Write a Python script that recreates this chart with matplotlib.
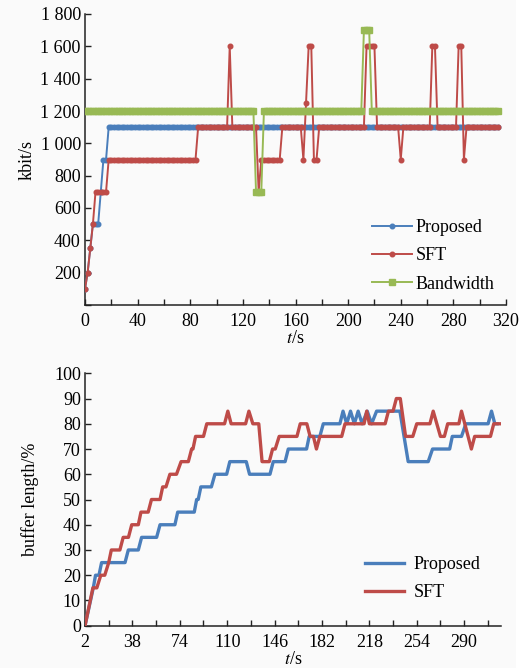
import numpy as np
import matplotlib
matplotlib.use("Agg")
import matplotlib.pyplot as plt
from matplotlib.patches import Rectangle

plt.rcParams['font.family'] = ['Liberation Serif', 'DejaVu Serif']
plt.rcParams['mathtext.fontset'] = 'stix'
plt.rcParams['font.size'] = 13

BLUE = '#4a7ebb'
RED = '#be4b48'
GREEN = '#98b954'

# ---- top chart: bit rate, sampled every 2 s (run-length: level, number of samples)
t_top = np.arange(0, 316, 2)
prop_levels = [100, 200, 350, 500, 700, 900, 1100]
prop_counts = [1, 1, 1, 3, 1, 2, 149]
sft_levels = [100, 200, 350, 500, 700, 900, 1100, 1600, 1100, 700, 900, 1100, 900,
              1250, 1600, 900, 1100, 1600, 1100, 900, 1100, 1600, 1100, 1600, 900, 1100]
sft_counts = [1, 1, 1, 1, 5, 34, 12, 1, 10, 1, 8, 8, 1,
              1, 2, 2, 18, 4, 9, 1, 11, 2, 8, 2, 1, 13]
bw_levels = [1200, 700, 1200, 1700, 1200]
bw_counts = [65, 3, 38, 3, 49]

# ---- bottom chart: buffer length, line vertices (t, %)
prop_buf_t = [2, 8.3, 10, 12.6, 14.6, 32.4, 34.9, 42.5, 45, 56.4, 59, 70.3, 72.4, 85,
              86.8, 88, 90, 98, 100.7, 109.6, 112, 124.5, 127, 142.5, 145, 154, 156.4,
              170.3, 172.3, 180.4, 183, 195.6, 198, 200.8, 203.7, 206.6, 209.5, 212.5,
              216.4, 219.7, 223.5, 241.2, 247.5, 262.7, 266, 279, 281, 288, 291.3,
              308.2, 310.8, 313.3, 315]
prop_buf_v = [0, 15, 20, 20, 25, 25, 30, 30, 35, 35, 40, 40, 45, 45,
              50, 50, 55, 55, 60, 60, 65, 65, 60, 60, 65, 65, 70,
              70, 75, 75, 80, 80, 85, 80, 85, 80, 85, 80,
              85, 80, 85, 85, 65, 65, 70, 70, 75, 75, 80,
              80, 85, 80, 80]
sft_buf_t = [2, 8, 11, 14, 17, 20, 22, 28.5, 31, 35, 37.5, 42.5, 44.5, 50, 52.5, 59,
             61, 63.5, 66.5, 71.5, 75, 80.5, 83, 84, 86, 92, 94.5, 108, 110.5, 113,
             124, 126.5, 129.5, 134, 136.5, 142, 144.5, 146.5, 149.5, 163, 165.5,
             170.5, 173, 175.5, 177.8, 180.4, 197, 199.5, 214, 216, 218, 230, 232.5,
             236, 238.5, 241.5, 245.5, 251, 254, 264, 266.5, 272, 275, 277.5, 286,
             288, 290.5, 295.5, 298, 310, 312.5, 318]
sft_buf_v = [0, 15, 15, 20, 20, 25, 30, 30, 35, 35, 40, 40, 45, 45, 50, 50,
             55, 55, 60, 60, 65, 65, 70, 70, 75, 75, 80, 80, 85, 80,
             80, 85, 80, 80, 65, 65, 70, 70, 75, 75, 80,
             80, 75, 75, 70, 75, 75, 80, 80, 85, 80, 80, 85,
             85, 90, 90, 75, 75, 80, 80, 85, 75, 75, 80, 80,
             85, 80, 70, 75, 75, 80, 80]

fig = plt.figure(figsize=(5.28, 6.68), dpi=100, facecolor='#fafafa')
fig.patches.append(Rectangle((516 / 528, 0), 12 / 528, 1, transform=fig.transFigure,
                             facecolor='white', edgecolor='none', zorder=-1))

ax1 = fig.add_axes([85 / 528, 1 - 305 / 668, 421 / 528, 291 / 668])
ax2 = fig.add_axes([85 / 528, 1 - 625.7 / 668, 416 / 528, 252.4 / 668])

for ax in (ax1, ax2):
    ax.set_facecolor('none')
    for s in ('top', 'right'):
        ax.spines[s].set_visible(False)
    for s in ('left', 'bottom'):
        ax.spines[s].set_linewidth(1.1)
        ax.spines[s].set_color('#222222')
    ax.tick_params(direction='in', length=4, width=1, color='#222222', labelsize=13, pad=3)
    ax.tick_params(axis='x', pad=6)

# top
ax1.plot(t_top, np.repeat(prop_levels, prop_counts), '-o', color=BLUE, lw=1.4, ms=3.3,
         label='Proposed', zorder=3)
ax1.plot(t_top, np.repeat(sft_levels, sft_counts), '-o', color=RED, lw=1.4, ms=3.3,
         label='SFT', zorder=4)
ax1.plot(t_top, np.repeat(bw_levels, bw_counts), '-s', color=GREEN, lw=1.4, ms=3.8,
         label='Bandwidth', zorder=5)
ax1.set_xlim(0, 320)
ax1.set_ylim(0, 1800)
ax1.set_xticks(np.arange(0, 321, 20))
ax1.set_xticklabels([str(v) if v % 40 == 0 else '' for v in range(0, 321, 20)])
yt = list(range(0, 1801, 200))
ax1.set_yticks(yt)
ax1.set_yticklabels(['' if v == 0 else (f'{v // 1000} {v % 1000:03d}' if v >= 1000 else str(v))
                     for v in yt])
ax1.set_ylabel('kbit/s', fontsize=13)
ax1.yaxis.set_label_coords(-0.118, 0.5)
ax1.set_xlabel('$t$/s', fontsize=13, labelpad=0)
ax1.legend(loc='upper left', bbox_to_anchor=(0.682, 0.295), frameon=False,
           borderpad=0, borderaxespad=0, handlelength=2.2, handletextpad=0.2,
           labelspacing=0.62, fontsize=13)

# bottom
ax2.plot(prop_buf_t, prop_buf_v, color=BLUE, lw=2.4, label='Proposed', zorder=3)
ax2.plot(sft_buf_t, sft_buf_v, color=RED, lw=2.4, label='SFT', zorder=4)
ax2.set_xlim(2, 318)
ax2.set_ylim(0, 100)
xt2 = list(range(2, 309, 18))
ax2.set_xticks(xt2)
ax2.set_xticklabels([str(v) if (v - 2) % 36 == 0 else '' for v in xt2])
ax2.set_yticks(range(0, 101, 10))
ax2.set_ylabel('buffer length/%', fontsize=13)
ax2.yaxis.set_label_coords(-0.11, 0.5)
ax2.set_xlabel('$t$/s', fontsize=13, labelpad=0)
ax2.legend(loc='upper left', bbox_to_anchor=(0.672, 0.276), frameon=False,
           borderpad=0, borderaxespad=0, handlelength=2.2, handletextpad=0.5,
           labelspacing=0.62, fontsize=13)

fig.savefig('out.png', dpi=100, facecolor=fig.get_facecolor())
